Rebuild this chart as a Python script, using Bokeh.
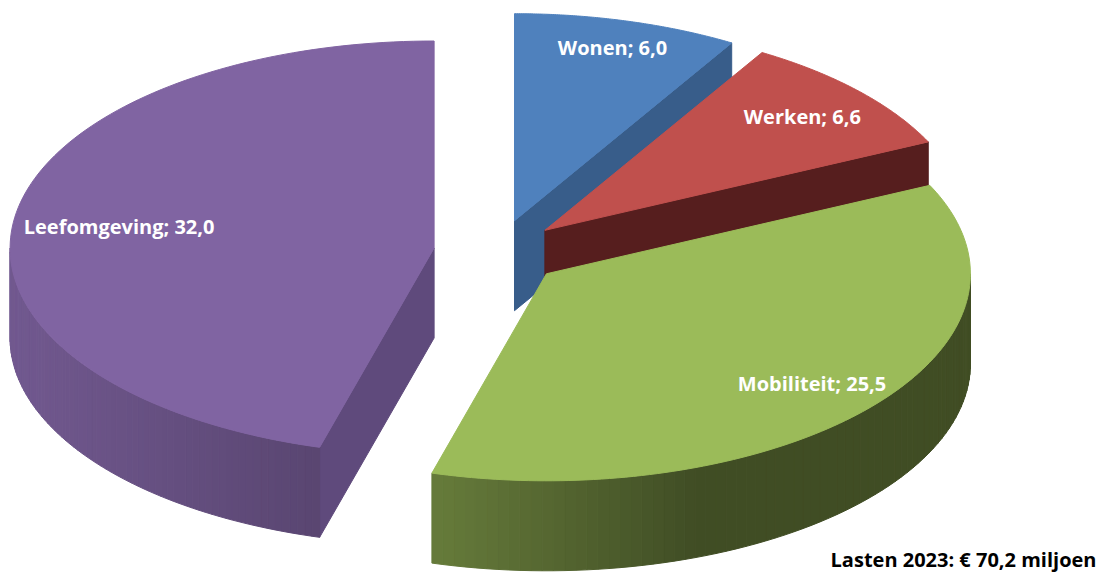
import numpy as np
from bokeh.plotting import figure
from bokeh.models import Range1d, ColumnDataSource, Label
from bokeh.embed import file_html
from bokeh.resources import INLINE
from bokeh.core.properties import value

# ---- data ----
categories = ["Wonen", "Werken", "Mobiliteit", "Leefomgeving"]
values = [6.0, 6.6, 25.5, 32.0]
note_text = "Lasten 2023: € 70,2 miljoen"

# ---- style ----
top_colors = ["#4F81BD", "#C0504D", "#9BBB59", "#8064A2"]
face_colors = ["#385D8A", "#561E1E", "#4F6228", "#5F4A7C"]
wall_shading = [(0.6, 0.3, 0.4), (0.6, 0.3, 0.4), (0.553, 0.395, 0.41), (0.628, 0.258, 0.6)]
label_radius = [0.87, 0.82, 0.82, 0.75]
CX, CY = 497.0, 252.0
RX, RY = 424.0, 207.0
DEPTH = 90.0
EXPL_X, EXPL_Y = 64.0, 33.0


def shade(hexcol, f):
    h = hexcol.lstrip("#")
    r, g, b = (int(h[i:i + 2], 16) for i in (0, 2, 4))
    return "#%02x%02x%02x" % tuple(max(0, min(255, int(round(c * f)))) for c in (r, g, b))


total = sum(values)
bounds = np.concatenate([[0.0], np.cumsum(values)]) / total * 2 * np.pi

slices = []
for i, name in enumerate(categories):
    th0, th1 = bounds[i], bounds[i + 1]
    mid = 0.5 * (th0 + th1)
    cx = CX + EXPL_X * np.sin(mid)
    cy = CY - EXPL_Y * np.cos(mid)
    slices.append(dict(i=i, th0=th0, th1=th1, mid=mid, cx=cx, cy=cy))

xs, ys, fills = [], [], []
for s in sorted(slices, key=lambda d: d["cy"]):
    i, th0, th1, cx, cy = s["i"], s["th0"], s["th1"], s["cx"], s["cy"]

    def pt(t, z):
        return cx + RX * np.sin(t), cy - RY * np.cos(t) + z

    # radial cut faces
    for t, visible in ((th0, np.sin(th0) < -1e-6), (th1, np.sin(th1) > 1e-6)):
        if visible:
            a = pt(t, 0); b = pt(t, DEPTH)
            xs.append([cx, a[0], b[0], cx])
            ys.append([cy, a[1], b[1], cy + DEPTH])
            fills.append(face_colors[i])
    # outer wall
    lo, hi = max(th0, np.pi / 2), min(th1, 1.5 * np.pi)
    if hi > lo:
        n = 70
        ts = np.linspace(lo, hi, n + 1)
        f0, k, fmin = wall_shading[i]
        for a_t, b_t in zip(ts[:-1], ts[1:]):
            m = 0.5 * (a_t + b_t)
            f = max(fmin, f0 + k * (-np.sin(m)))
            pa0, pb0 = pt(a_t, 0), pt(b_t, 0)
            pa1, pb1 = pt(a_t, DEPTH), pt(b_t, DEPTH)
            xs.append([pa0[0], pb0[0], pb1[0], pa1[0]])
            ys.append([pa0[1], pb0[1], pb1[1], pa1[1]])
            fills.append(shade(top_colors[i], f))
    # top face
    ts = np.linspace(th0, th1, 120)
    xs.append([cx] + list(cx + RX * np.sin(ts)))
    ys.append([cy] + list(cy - RY * np.cos(ts)))
    fills.append(top_colors[i])

p = figure(width=1098, height=572, x_range=Range1d(0, 1098), y_range=Range1d(572, 0),
           output_backend="svg", toolbar_location=None, min_border=0,
           x_axis_type=None, y_axis_type=None)
p.grid.visible = False
p.outline_line_color = None
p.background_fill_color = "white"

src = ColumnDataSource(dict(xs=xs, ys=ys, fill=fills))
p.patches("xs", "ys", source=src, fill_color="fill", line_color="fill", line_width=1)

lx, ly, lt = [], [], []
for s in slices:
    i = s["i"]
    r = label_radius[i]
    lx.append(s["cx"] + r * RX * np.sin(s["mid"]))
    ly.append(s["cy"] - r * RY * np.cos(s["mid"]))
    lt.append(f"{categories[i]}; {values[i]:.1f}".replace(".", ","))
p.text(x="x", y="y", text="t", source=ColumnDataSource(dict(x=lx, y=ly, t=lt)),
       text_color="white", text_font=value("Open Sans"), text_font_style="bold",
       text_font_size="20px", text_align="center", text_baseline="middle")

p.add_layout(Label(x=1096, y=559, text=note_text, text_align="right",
                   text_baseline="alphabetic", text_color="black",
                   text_font="Open Sans", text_font_style="bold", text_font_size="20px"))

open("out.html", "w").write(file_html(p, INLINE))
